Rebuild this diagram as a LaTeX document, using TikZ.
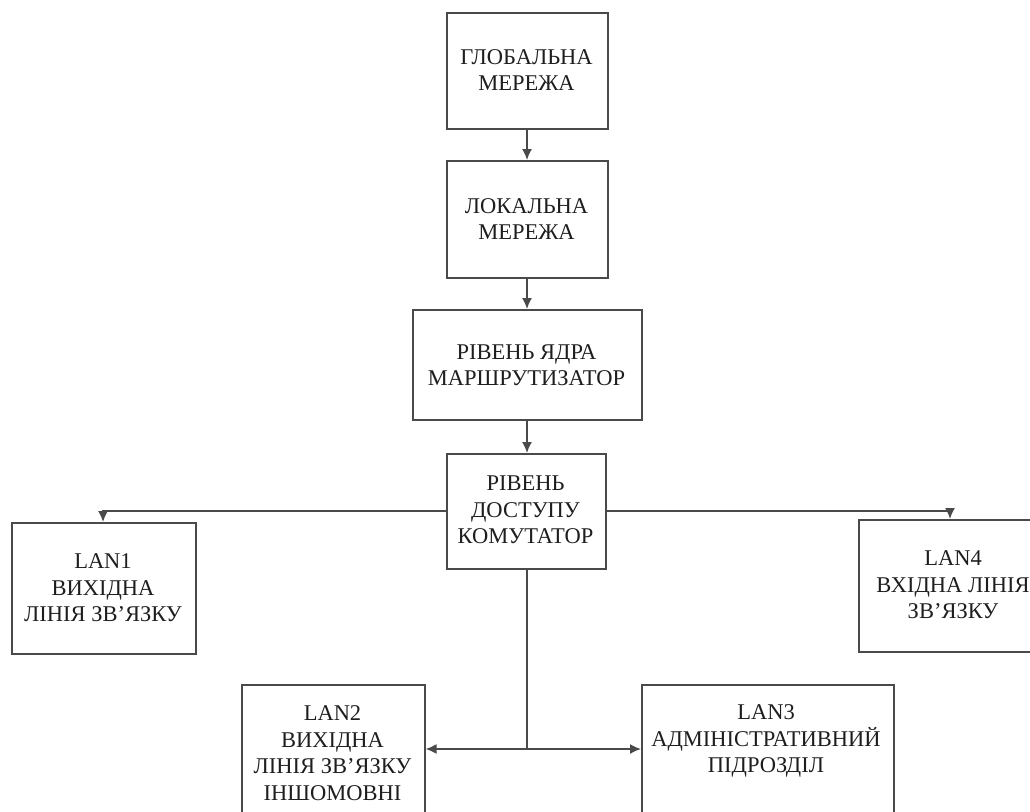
\documentclass[tikz,border=0pt]{standalone}
\usepackage{fontspec}
\setmainfont{Liberation Serif}
\usetikzlibrary{arrows.meta}
\definecolor{linec}{HTML}{4A4A4A}
\definecolor{textc}{HTML}{1E1E1E}
\begin{document}
\begin{tikzpicture}[x=1pt,y=-1pt,
  box/.style={draw=linec, line width=1.6pt, inner sep=0pt, anchor=north west},
  txt/.style={text=textc, align=center, font=\fontsize{22.5}{26.5}\selectfont, inner sep=0pt},
  conn/.style={draw=linec, line width=1.6pt},
  arr/.style={conn, -{Latex[length=11pt,width=10pt]}}]
\clip (0,0) rectangle (1030,811);
\fill[white] (0,0) rectangle (1030,811);
% boxes
\node[box, minimum width=161pt, minimum height=116pt] (b1) at (446,12) {};
\node[box, minimum width=161pt, minimum height=117pt] (b2) at (446,160) {};
\node[box, minimum width=229pt, minimum height=110pt] (b3) at (412,309) {};
\node[box, minimum width=159pt, minimum height=115pt] (b4) at (446,453) {};
\node[box, minimum width=184pt, minimum height=131pt] (l1) at (11,522) {};
\node[box, minimum width=190pt, minimum height=132pt] (l4) at (858,519) {};
\node[box, minimum width=183pt, minimum height=140pt] (l2) at (241,684) {};
\node[box, minimum width=252pt, minimum height=140pt] (l3) at (641,684) {};
% texts
\node[txt] (t1) at (526.5,70) {ГЛОБАЛЬНА\\МЕРЕЖА};
\node[txt] (t2) at (526.5,219) {ЛОКАЛЬНА\\МЕРЕЖА};
\node[txt] (t3) at (526.5,365) {РІВЕНЬ ЯДРА\\МАРШРУТИЗАТОР};
\node[txt] (t4) at (525.5,510) {РІВЕНЬ\\ДОСТУПУ\\КОМУТАТОР};
\node[txt] (tl1) at (103,588) {LAN1\\ВИХІДНА\\ЛІНІЯ ЗВ’ЯЗКУ};
\node[txt] (tl4) at (953,585) {LAN4\\ВХІДНА ЛІНІЯ\\ЗВ’ЯЗКУ};
\node[txt] (tl2) at (332.5,753) {LAN2\\ВИХІДНА\\ЛІНІЯ ЗВ’ЯЗКУ\\ІНШОМОВНІ};
\node[txt] (tl3) at (766,741) {LAN3\\АДМІНІСТРАТИВНИЙ\\ПІДРОЗДІЛ};
% connectors
\draw[arr] (b1.south -| 527,0) -- (b2.north -| 527,0);
\draw[arr] (b2.south -| 527,0) -- (b3.north -| 527,0);
\draw[arr] (b3.south -| 527,0) -- (b4.north -| 527,0);
\draw[arr] (b4.west |- 0,511) -| (l1.north -| 103,0);
\draw[arr] (b4.east |- 0,511) -| (l4.north -| 950,0);
\coordinate (j) at (527,749);
\draw[conn] (b4.south -| 527,0) -- (j);
\draw[arr] (j) -- (l2.east |- j);
\draw[arr] (j) -- (l3.west |- j);
\end{tikzpicture}
\end{document}
